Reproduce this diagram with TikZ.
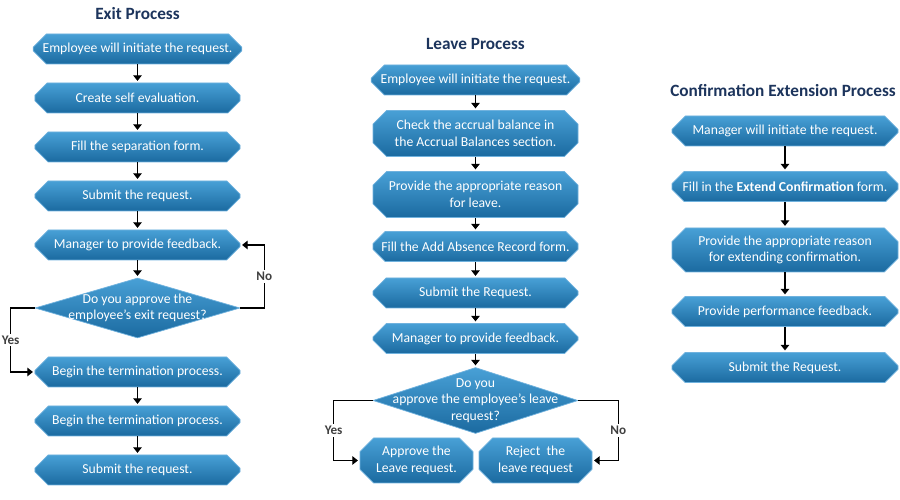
\documentclass[tikz,border=0pt]{standalone}
\usepackage{fontspec}
\setmainfont{Carlito}
\usepackage{tikz}
\usetikzlibrary{arrows.meta,shapes.misc,shapes.geometric}

\definecolor{boxtop}{RGB}{72,160,214}
\definecolor{boxbot}{RGB}{27,106,160}
\definecolor{boxrim}{RGB}{112,178,222}
\definecolor{headblue}{RGB}{28,52,92}

\begin{document}
\begin{tikzpicture}[
    >={Triangle[length=1.1mm, width=1.7mm]},
    font=\fontsize{7.8}{9.5}\selectfont,
    proc/.style={chamfered rectangle, chamfered rectangle xsep=0.16cm,
                 draw=boxrim, line width=0.4pt, top color=boxtop,
                 bottom color=boxbot, text=white, align=center,
                 inner sep=1pt, minimum width=4.1cm, minimum height=0.6cm},
    tallproc/.style={proc, minimum height=0.92cm},
    decide/.style={diamond, draw=boxrim, line width=0.4pt, top color=boxtop,
                   bottom color=boxbot, text=white, align=center,
                   inner xsep=-30pt, inner ysep=-14pt,
                   minimum width=4.1cm, minimum height=1.2cm},
    head/.style={font=\fontsize{9.8}{12}\selectfont\bfseries, text=headblue},
    ans/.style={font=\fontsize{7.5}{9}\selectfont\bfseries, text=black!75,
                fill=white, inner sep=1pt},
    flow/.style={->, line width=0.6pt, black, shorten >=1pt},
]
\fill[white] (0,0) rectangle (18,-10);
\useasboundingbox (0,0) rectangle (18,-10);

% --- Exit Process ---
\node[head] (exithead) at (2.75,-0.28) {Exit Process};
\node[proc] (e1) at (2.75,-0.98) {Employee will initiate the request.};
\node[proc] (e2) at (2.75,-1.96) {Create self evaluation.};
\node[proc] (e3) at (2.75,-2.94) {Fill the separation form.};
\node[proc] (e4) at (2.75,-3.92) {Submit the request.};
\node[proc] (e5) at (2.75,-4.90) {Manager to provide feedback.};
\node[decide] (ed) at (2.75,-6.16)
  {Do you approve the\\employee's exit request?};
\node[proc] (e7) at (2.75,-7.44) {Begin the termination process.};
\node[proc] (e8) at (2.75,-8.42) {Begin the termination process.};
\node[proc] (e9) at (2.75,-9.40) {Submit the request.};

\draw[flow] (e1.south) -- (e2.north);
\draw[flow] (e2.south) -- (e3.north);
\draw[flow] (e3.south) -- (e4.north);
\draw[flow] (e4.south) -- (e5.north);
\draw[flow] (e5.south) -- (ed.north);
\draw[flow] (e7.south) -- (e8.north);
\draw[flow] (e8.south) -- (e9.north);
\draw[flow] (ed.west) -- ++(-0.48,0) |- node[ans,pos=0.25]{Yes} (e7.west);
\draw[flow] (ed.east) -- ++(0.48,0) |- node[ans,pos=0.25]{No} (e5.east);

% --- Leave Process ---
\node[head] (leavehead) at (9.51,-0.88) {Leave Process};
\node[proc] (l1) at (9.51,-1.60) {Employee will initiate the request.};
\node[tallproc] (l2) at (9.51,-2.67)
  {Check the accrual balance in\\the Accrual Balances section.};
\node[tallproc] (l3) at (9.51,-3.89)
  {Provide the appropriate reason\\for leave.};
\node[proc] (l4) at (9.51,-4.93) {Fill the Add Absence Record form.};
\node[proc] (l5) at (9.51,-5.86) {Submit the Request.};
\node[proc] (l6) at (9.51,-6.77) {Manager to provide feedback.};
\node[decide, minimum height=1.32cm] (ld) at (9.51,-8.01)
  {Do you\\approve the employee's leave\\request?};
\node[tallproc, minimum width=2.26cm, minimum height=0.9cm] (la) at (8.33,-9.21)
  {Approve the\\Leave request.};
\node[tallproc, minimum width=2.26cm, minimum height=0.9cm] (lr) at (10.71,-9.21)
  {Reject\ \ the\\leave request};

\draw[flow] (l1.south) -- (l2.north);
\draw[flow] (l2.south) -- (l3.north);
\draw[flow] (l3.south) -- (l4.north);
\draw[flow] (l4.south) -- (l5.north);
\draw[flow] (l5.south) -- (l6.north);
\draw[flow] (l6.south) -- (ld.north);
\draw[flow] (ld.west) -- ++(-0.78,0) |- node[ans,pos=0.25]{Yes} (la.west);
\draw[flow] (ld.east) -- ++(0.80,0) |- node[ans,pos=0.25]{No} (lr.east);

% --- Confirmation Extension Process ---
\node[head] (confhead) at (15.66,-1.82) {Confirmation Extension Process};
\node[proc, minimum width=4.52cm] (c1) at (15.70,-2.62)
  {Manager will initiate the request.};
\node[proc, minimum width=4.52cm] (c2) at (15.70,-3.73)
  {Fill in the \textbf{Extend Confirmation} form.};
\node[tallproc, minimum width=4.52cm, minimum height=0.88cm] (c3) at (15.70,-5.00)
  {Provide the appropriate reason\\for extending confirmation.};
\node[proc, minimum width=4.52cm] (c4) at (15.70,-6.23)
  {Provide performance feedback.};
\node[proc, minimum width=4.52cm] (c5) at (15.70,-7.35)
  {Submit the Request.};

\draw[flow] (c1.south) -- (c2.north);
\draw[flow] (c2.south) -- (c3.north);
\draw[flow] (c3.south) -- (c4.north);
\draw[flow] (c4.south) -- (c5.north);
\end{tikzpicture}
\end{document}
